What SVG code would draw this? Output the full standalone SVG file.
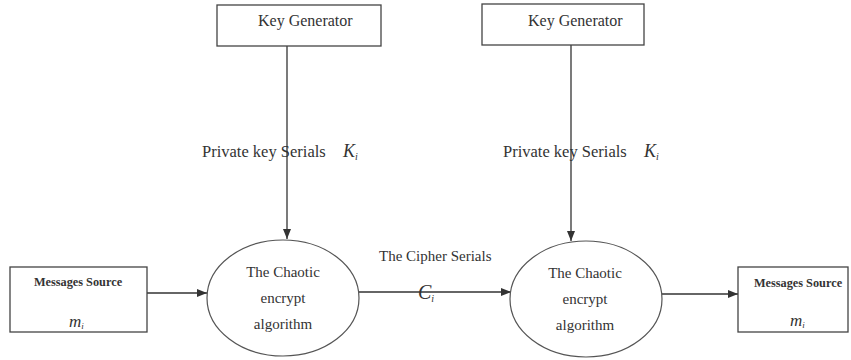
<svg xmlns="http://www.w3.org/2000/svg" width="851" height="360" viewBox="0 0 851 360">
<style>
.box{fill:#fff;stroke:#444;stroke-width:1.3}
.ell{fill:#fff;stroke:#555;stroke-width:1.2}
.ln{stroke:#333;stroke-width:1.3;fill:none}
.t{font-family:"Liberation Serif","Times New Roman",serif;fill:#333}
.kg{font-size:16px}
.lbl{font-size:16.5px}
.el{font-size:15px;text-anchor:middle}
.ms{font-size:12.3px;font-weight:bold;text-anchor:middle}
.it{font-style:italic}
</style>
<defs>
<marker id="ah" markerWidth="10" markerHeight="8" refX="10" refY="4" orient="auto" markerUnits="userSpaceOnUse">
<path d="M0,0 L10,4 L0,8 Z" fill="#333"/>
</marker>
</defs>
<rect width="851" height="360" fill="#fff"/>
<g id="connectors">
<line class="ln" x1="287" y1="46" x2="287" y2="239" marker-end="url(#ah)"/>
<line class="ln" x1="571" y1="45" x2="571" y2="241" marker-end="url(#ah)"/>
<line class="ln" x1="147" y1="293" x2="207" y2="293" marker-end="url(#ah)"/>
<line class="ln" x1="358" y1="292" x2="511" y2="292" marker-end="url(#ah)"/>
<line class="ln" x1="662" y1="294" x2="738" y2="294" marker-end="url(#ah)"/>
<text class="t lbl" x="202" y="157">Private key Serials</text>
<text class="t it" x="343" y="157" font-size="18">K<tspan font-size="10" dy="3">i</tspan></text>
<text class="t lbl" x="503" y="157">Private key Serials</text>
<text class="t it" x="644" y="157" font-size="18">K<tspan font-size="10" dy="3">i</tspan></text>
<text class="t" x="379" y="261" font-size="15">The Cipher Serials</text>
<text class="t it" x="418" y="299" font-size="20">C<tspan font-size="10" dy="3">i</tspan></text>
</g>
<g id="keygen1">
<rect class="box" x="217" y="5" width="164" height="41"/>
<text class="t kg" x="258" y="26">Key Generator</text>
</g>
<g id="keygen2">
<rect class="box" x="482" y="4" width="162" height="41"/>
<text class="t kg" x="528" y="26">Key Generator</text>
</g>
<g id="source1">
<rect class="box" x="10" y="267" width="137" height="65"/>
<text class="t ms" x="78" y="286">Messages Source</text>
<text class="t it" x="69" y="327" font-size="17">m<tspan font-size="9" dy="2">i</tspan></text>
</g>
<g id="encrypt1">
<ellipse class="ell" cx="283" cy="298" rx="76" ry="58"/>
<text class="t el" x="283" y="277">The Chaotic</text>
<text class="t el" x="283" y="303">encrypt</text>
<text class="t el" x="283" y="329">algorithm</text>
</g>
<g id="encrypt2">
<ellipse class="ell" cx="586" cy="299" rx="76" ry="58"/>
<text class="t el" x="585" y="278">The Chaotic</text>
<text class="t el" x="585" y="304">encrypt</text>
<text class="t el" x="585" y="330">algorithm</text>
</g>
<g id="source2">
<rect class="box" x="738" y="267" width="110" height="65"/>
<text class="t ms" x="798" y="287">Messages Source</text>
<text class="t it" x="790" y="326" font-size="17">m<tspan font-size="9" dy="2">i</tspan></text>
</g>
</svg>
